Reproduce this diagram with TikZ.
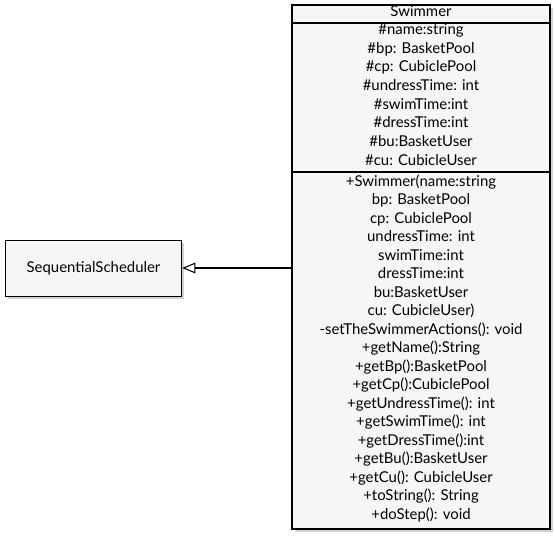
\documentclass[tikz,border=0pt]{standalone}
\usepackage{fontspec}
\setmainfont{Lato}
\usetikzlibrary{arrows.meta,shadows}
\begin{document}
\begin{tikzpicture}[x=0.75pt,y=-0.75pt,
  umlbox/.style={draw=black, line width=0.9pt, fill=gray!7,
    drop shadow={opacity=0.35, shadow xshift=2pt, shadow yshift=-2pt}},
  txt/.style={font=\fontsize{11.2}{12}\selectfont, inner sep=0pt, anchor=mid},
  divider/.style={line width=0.9pt},
  inherit/.style={line width=0.8pt, -{Triangle[open, length=10pt, width=8pt, fill=white]}}
]
\useasboundingbox (0,0) rectangle (555,535);
% Swimmer class box
\draw[umlbox] (292,5) rectangle (550,529);
\coordinate (tl) at (292,23);
\coordinate (tr) at (550,23);
\coordinate (ml) at (292,172);
\coordinate (mr) at (550,172);
\draw[divider] (tl) -- (tr);
\draw[divider] (ml) -- (mr);
\node[txt] (title) at (421,13) {Swimmer};
% attributes
\foreach \t [count=\i] in {%
  {\#name:string},
  {\#bp: BasketPool},
  {\#cp: CubiclePool},
  {\#undressTime: int},
  {\#swimTime:int},
  {\#dressTime:int},
  {\#bu:BasketUser},
  {\#cu: CubicleUser}}{
  \node[txt] (attr\i) at (421,{31+(\i-1)*18.7}) {\t};
}
% methods
\foreach \t [count=\i] in {%
  {+Swimmer(name:string},
  {bp: BasketPool},
  {cp: CubiclePool},
  {undressTime: int},
  {swimTime:int},
  {dressTime:int},
  {bu:BasketUser},
  {cu: CubicleUser)},
  {-setTheSwimmerActions(): void},
  {+getName():String},
  {+getBp():BasketPool},
  {+getCp():CubiclePool},
  {+getUndressTime(): int},
  {+getSwimTime(): int},
  {+getDressTime():int},
  {+getBu():BasketUser},
  {+getCu(): CubicleUser},
  {+toString(): String},
  {+doStep(): void}}{
  \node[txt] (meth\i) at (421,{183+(\i-1)*18.5}) {\t};
}
% SequentialScheduler
\node[umlbox, txt, anchor=center, minimum width=132pt, minimum height=42pt] (sched) at (93.5,268.5) {SequentialScheduler};
\coordinate (swl) at (292,268);
\draw[inherit] (swl) -- (sched.east |- swl);
\end{tikzpicture}
\end{document}
